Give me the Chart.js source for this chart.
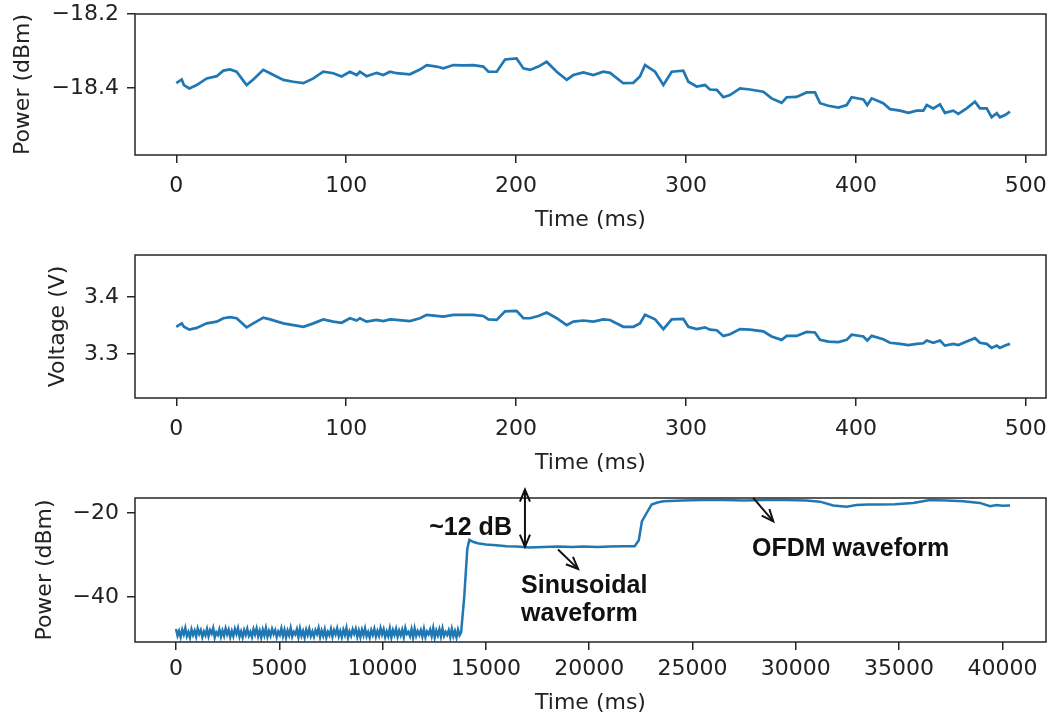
<!DOCTYPE html>
<html>
<head>
<meta charset="utf-8">
<script src="https://cdn.jsdelivr.net/npm/chart.js@4.4.1/dist/chart.umd.min.js"></script>
<style>
  html, body { margin:0; padding:0; background:#fff; }
  #wrap { position:relative; width:1049px; height:716px; overflow:hidden; background:#fff; }
  canvas { position:absolute; left:0; }
</style>
</head>
<body>
<div id="wrap">
  <canvas id="c1" width="1049" height="235" style="top:0px"></canvas>
  <canvas id="c2" width="1049" height="243" style="top:235px"></canvas>
  <canvas id="c3" width="1049" height="238" style="top:478px"></canvas>
</div>
<script>
// ---------- DATA ----------
// Panels 1 & 2 share the same time base (ms)
const time1 = [0,3.2,4.5,7.7,12.0,17.9,23.8,27.7,31.6,35.5,41.4,45.3,51.2,55.2,63.0,68.9,74.8,80.7,86.5,92.4,
  97.3,102.2,106.2,108.1,112.0,117.9,121.9,125.8,129.7,137.5,143.4,147.4,153.2,157.2,163.1,168.9,174.8,180.7,183.7,188.6,
  193.5,200.3,204.3,208.2,213.1,218.0,223.9,229.8,233.7,239.6,
  245.5,251.3,255.3,263.1,269.0,272.9,275.9,281.8,286.7,291.6,298.4,301.4,306.3,311.2,314.1,318.1,322.0,325.9,331.8,337.7,
  345.5,350.4,356.3,359.3,365.1,371.0,375.9,378.9,383.8,389.7,394.6,397.5,404.4,406.7,409.3,416.1,420.1,426.0,430.9,435.8,
  439.7,441.7,445.6,449.5,452.4,457.3,460.3,465.2,470.1,473.0,477.0,479.9,482.9,484.8,487.8,490.7];

const power1 = [-18.387,-18.377,-18.392,-18.401,-18.392,-18.374,-18.368,-18.353,-18.350,-18.356,-18.392,-18.377,-18.351,-18.360,-18.378,-18.383,-18.387,-18.374,-18.356,-18.360,
  -18.369,-18.356,-18.365,-18.356,-18.368,-18.359,-18.365,-18.356,-18.360,-18.363,-18.350,-18.338,-18.342,-18.347,-18.338,-18.339,-18.338,-18.342,-18.356,-18.356,
  -18.323,-18.320,-18.347,-18.351,-18.342,-18.329,-18.356,-18.378,-18.365,-18.358,
  -18.365,-18.356,-18.359,-18.387,-18.386,-18.369,-18.338,-18.356,-18.392,-18.356,-18.353,-18.383,-18.396,-18.392,-18.404,-18.405,-18.425,-18.419,-18.401,-18.404,
  -18.410,-18.428,-18.440,-18.425,-18.424,-18.412,-18.412,-18.441,-18.448,-18.453,-18.446,-18.425,-18.431,-18.446,-18.428,-18.441,-18.457,-18.461,-18.467,-18.461,
  -18.461,-18.446,-18.455,-18.444,-18.467,-18.461,-18.470,-18.455,-18.437,-18.455,-18.455,-18.479,-18.468,-18.479,-18.473,-18.464];

const voltage2 = [3.348,3.354,3.348,3.343,3.346,3.354,3.357,3.363,3.365,3.363,3.347,3.354,3.364,3.361,3.354,3.351,3.348,3.354,3.361,3.357,
  3.355,3.363,3.359,3.363,3.357,3.360,3.358,3.361,3.360,3.358,3.363,3.369,3.367,3.366,3.369,3.369,3.369,3.367,3.361,3.360,
  3.375,3.376,3.363,3.363,3.367,3.373,3.363,3.351,3.357,3.359,
  3.357,3.361,3.360,3.348,3.348,3.354,3.369,3.361,3.344,3.361,3.362,3.348,3.344,3.347,3.343,3.342,3.332,3.335,3.344,3.343,
  3.340,3.331,3.325,3.332,3.332,3.339,3.338,3.325,3.322,3.321,3.325,3.334,3.331,3.324,3.332,3.326,3.320,3.318,3.316,3.318,
  3.319,3.324,3.320,3.324,3.315,3.318,3.316,3.322,3.328,3.320,3.318,3.311,3.315,3.311,3.315,3.318];

// Panel 3 (long record): noise floor, sinusoidal plateau, OFDM plateau
const time3 = [
  0,75,150,225,300,375,450,525,600,675,750,825,900,975,1050,1125,1200,1275,1350,1425,
  1500,1575,1650,1725,1800,1875,1950,2025,2100,2175,2250,2325,2400,2475,2550,2625,2700,2775,2850,2925,
  3000,3075,3150,3225,3300,3375,3450,3525,3600,3675,3750,3825,3900,3975,4050,4125,4200,4275,4350,4425,
  4500,4575,4650,4725,4800,4875,4950,5025,5100,5175,5250,5325,5400,5475,5550,5625,5700,5775,5850,5925,
  6000,6075,6150,6225,6300,6375,6450,6525,6600,6675,6750,6825,6900,6975,7050,7125,7200,7275,7350,7425,
  7500,7575,7650,7725,7800,7875,7950,8025,8100,8175,8250,8325,8400,8475,8550,8625,8700,8775,8850,8925,
  9000,9075,9150,9225,9300,9375,9450,9525,9600,9675,9750,9825,9900,9975,10050,10125,10200,10275,10350,10425,
  10500,10575,10650,10725,10800,10875,10950,11025,11100,11175,11250,11325,11400,11475,11550,11625,11700,11775,11850,11925,
  12000,12075,12150,12225,12300,12375,12450,12525,12600,12675,12750,12825,12900,12975,13050,13125,13200,13275,13350,13425,
  13500,13575,13650,13725,13800,
  13950,14100,14200,14400,14600,15000,15500,16000,16500,17100,17800,18500,19200,19700,20400,21000,21700,22200,
  22400,22550,22780,23020,23300,23590,24500,25500,26500,27500,28500,29500,30500,31170,31810,32460,32940,33500,34070,34800,
  35680,36490,37300,38100,38910,39400,39720,40000,40370];

const power3 = [
  -47.6,-49.2,-48.1,-49.5,-47.8,-48.9,-47.4,-49.3,-48.3,-49.6,
  -47.7,-49.0,-48.0,-49.4,-47.5,-48.8,-47.9,-49.5,-48.2,-49.1,
  -47.6,-49.3,-47.9,-48.7,-47.4,-49.6,-48.4,-49.0,-47.7,-49.4,
  -48.0,-49.2,-47.5,-48.9,-47.8,-49.5,-48.1,-49.3,-47.6,-48.8,
  -47.4,-49.4,-48.2,-49.6,-47.9,-49.0,-47.6,-49.2,-48.3,-49.5,
  -47.7,-48.9,-47.5,-49.3,-48.0,-49.6,-47.8,-49.1,-47.4,-49.4,
  -48.1,-49.2,-47.6,-48.8,-47.9,-49.5,-48.2,-49.0,-47.5,-49.3,
  -47.8,-49.6,-48.0,-49.1,-47.4,-49.4,-48.3,-48.9,-47.7,-49.5,
  -47.5,-49.2,-48.1,-49.6,-47.8,-49.0,-47.6,-49.3,-48.2,-49.4,
  -47.9,-48.8,-47.4,-49.5,-48.0,-49.2,-47.7,-49.6,-48.3,-49.1,
  -47.6,-49.4,-47.9,-48.9,-47.5,-49.3,-48.1,-49.5,-47.8,-49.0,
  -47.4,-49.6,-48.2,-49.2,-47.7,-48.8,-47.6,-49.4,-48.0,-49.5,
  -47.8,-49.1,-47.5,-49.3,-48.3,-49.6,-47.9,-49.0,-47.6,-49.4,
  -48.1,-49.2,-47.4,-48.9,-47.7,-49.5,-48.2,-49.3,-47.5,-49.6,
  -47.9,-49.0,-47.6,-49.4,-48.0,-49.1,-47.8,-49.5,-47.4,-48.8,
  -48.3,-49.3,-47.7,-49.6,-47.5,-49.2,-48.1,-49.0,-47.9,-49.4,
  -47.6,-49.5,-48.2,-48.9,-47.8,-49.3,-47.4,-49.6,-48.0,-49.1,
  -47.7,-49.4,-47.5,-49.2,-48.3,-49.0,-47.9,-49.5,-47.6,-49.3,
  -48.1,-49.6,-47.8,-49.1,-48.4,
  -40.0,-28.5,-26.4,-26.9,-27.2,-27.5,-27.7,-27.9,-28.0,-28.2,-28.1,-28.0,-28.1,-28.0,-28.1,-28.0,-27.9,-27.9,
  -26.5,-22.0,-20.0,-18.0,-17.5,-17.2,-17.0,-16.9,-16.9,-17.0,-16.9,-16.9,-17.0,-17.3,-18.2,-18.5,-18.1,-18.0,-18.0,-17.9,
  -17.6,-16.9,-17.0,-17.2,-17.6,-18.4,-18.1,-18.3,-18.2];

// Tick values
const xTicksMs = [0,100,200,300,400,500];
const xTicksLong = [0,5000,10000,15000,20000,25000,30000,35000,40000];
const yTicksPower1 = [-18.4,-18.2];
const yTicksVoltage = [3.3,3.4];
const yTicksPower3 = [-40,-20];

// Annotations of panel 3 (data coordinates)
const annoTexts = [
  {text:'~12 dB', x:16260, y:-23.5, align:'right'},
  {text:'Sinusoidal', x:16700, y:-37.5, align:'left'},
  {text:'waveform', x:16700, y:-44.0, align:'left'},
  {text:'OFDM waveform', x:27880, y:-28.5, align:'left'}
];
const annoArrows = [
  {x1:16890, y1:-14.45, x2:16890, y2:-28.0, both:true},
  {x1:18490, y1:-28.7, x2:19460, y2:-33.3, both:false},
  {x1:27940, y1:-16.4, x2:28910, y2:-22.0, both:false}
];

// ---------- STYLE / HELPERS ----------
const BLUE = '#1f77b4';
const AX = '#262626';
Chart.defaults.font.family = "'DejaVu Sans', sans-serif";
Chart.defaults.font.size = 22;
Chart.defaults.color = '#222';

const fmtMinus = (s) => String(s).replace('-', '\u2212');

const framePlugin = {
  id: 'frame',
  afterDraw(chart) {
    const {ctx, chartArea:a} = chart;
    ctx.save();
    ctx.strokeStyle = AX;
    ctx.lineWidth = 1.5;
    ctx.strokeRect(a.left, a.top, a.right - a.left, a.bottom - a.top);
    ctx.restore();
  }
};

function arrowHead(ctx, xf, yf, xt, yt) {
  const ang = Math.atan2(yt - yf, xt - xf);
  const L = 13, w = 0.4;
  ctx.beginPath();
  ctx.moveTo(xt - L*Math.cos(ang - w), yt - L*Math.sin(ang - w));
  ctx.lineTo(xt, yt);
  ctx.lineTo(xt - L*Math.cos(ang + w), yt - L*Math.sin(ang + w));
  ctx.stroke();
}

const annoPlugin = {
  id: 'anno',
  afterDraw(chart) {
    const {ctx} = chart;
    const sx = chart.scales.x, sy = chart.scales.y;
    ctx.save();
    ctx.fillStyle = '#111';
    ctx.font = "bold 25px 'Liberation Sans', Arial, sans-serif";
    ctx.textBaseline = 'middle';
    annoTexts.forEach(t => {
      ctx.textAlign = t.align;
      ctx.fillText(t.text, sx.getPixelForValue(t.x), sy.getPixelForValue(t.y));
    });
    ctx.strokeStyle = '#111';
    ctx.lineWidth = 2;
    annoArrows.forEach(a => {
      const x1 = sx.getPixelForValue(a.x1), y1 = sy.getPixelForValue(a.y1);
      const x2 = sx.getPixelForValue(a.x2), y2 = sy.getPixelForValue(a.y2);
      ctx.beginPath(); ctx.moveTo(x1, y1); ctx.lineTo(x2, y2); ctx.stroke();
      arrowHead(ctx, x1, y1, x2, y2);
      if (a.both) arrowHead(ctx, x2, y2, x1, y1);
    });
    ctx.restore();
  }
};

function makeChart(id, xs, ys, opt) {
  const pts = xs.map((x, i) => ({x, y: ys[i]}));
  return new Chart(document.getElementById(id), {
    type: 'line',
    data: { datasets: [{ data: pts, borderColor: BLUE, borderWidth: opt.lw, pointRadius: 0, tension: 0, fill: false }] },
    options: {
      responsive: false, animation: false, devicePixelRatio: 1,
      layout: { padding: { top: opt.padTop, right: 3, left: 0, bottom: 0 } },
      plugins: { legend: { display: false }, tooltip: { enabled: false } },
      scales: {
        x: {
          type: 'linear', min: opt.xmin, max: opt.xmax,
          afterBuildTicks: s => { s.ticks = opt.xTicks.map(v => ({value: v})); },
          afterFit: s => { s.height = opt.xh; s.paddingLeft = 0; s.paddingRight = 0; },
          border: { display: false },
          grid: { drawOnChartArea: false, drawTicks: true, tickLength: 8, tickColor: AX, lineWidth: 1.5 },
          ticks: { padding: opt.xtickPad, color: '#222', maxRotation: 0, autoSkip: false, callback: v => String(v) },
          title: { display: true, text: 'Time (ms)', color: '#222', padding: { top: 0, bottom: opt.xtPad } }
        },
        y: {
          type: 'linear', min: opt.ymin, max: opt.ymax,
          afterBuildTicks: s => { s.ticks = opt.yTicks.map(v => ({value: v})); },
          afterFit: s => { s.width = 135; s.paddingTop = 0; s.paddingBottom = 0; },
          border: { display: false },
          grid: { drawOnChartArea: false, drawTicks: true, tickLength: 8, tickColor: AX, lineWidth: 1.5 },
          ticks: { padding: 8, color: '#222', autoSkip: false, callback: v => fmtMinus(v.toFixed(opt.dec)) },
          title: { display: true, text: opt.ytitle, color: '#222', padding: { top: opt.ytPad, bottom: 0 } }
        }
      }
    },
    plugins: opt.anno ? [framePlugin, annoPlugin] : [framePlugin]
  });
}

makeChart('c1', time1, power1, {
  lw: 2.7, padTop: 14, xmin: -24.3, xmax: 511.9, xTicks: xTicksMs, xh: 80, xtPad: 2, xtickPad: 10,
  ymin: -18.581, ymax: -18.2, yTicks: yTicksPower1, dec: 1, ytitle: 'Power (dBm)', ytPad: 10
});
makeChart('c2', time1, voltage2, {
  lw: 2.7, padTop: 20, xmin: -24.3, xmax: 511.9, xTicks: xTicksMs, xh: 80, xtPad: 2, xtickPad: 10,
  ymin: 3.223, ymax: 3.474, yTicks: yTicksVoltage, dec: 1, ytitle: 'Voltage (V)', ytPad: 45
});
makeChart('c3', time3, power3, {
  lw: 2.5, padTop: 20, xmin: -1985, xmax: 42110, xTicks: xTicksLong, xh: 74, xtPad: 0, xtickPad: 6,
  ymin: -50.7, ymax: -16.43, yTicks: yTicksPower3, dec: 0, ytitle: 'Power (dBm)', ytPad: 32, anno: true
});
</script>
</body>
</html>
